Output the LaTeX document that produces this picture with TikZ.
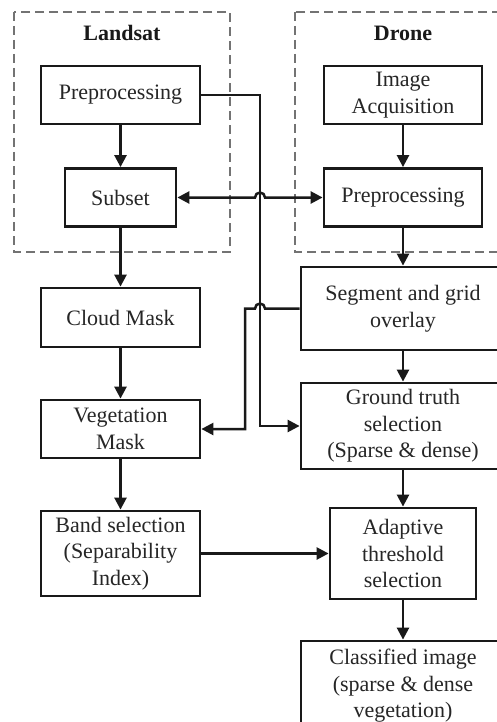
\documentclass[tikz,border=0pt]{standalone}
\usepackage{fontspec}
\setmainfont{Liberation Serif}
\usetikzlibrary{arrows.meta,calc}
\begin{document}
\begin{tikzpicture}[x=1pt,y=1pt,
  box/.style={draw=black!90, line width=2.8pt, align=center, inner sep=2pt,
    font=\fontsize{22}{26.5}\selectfont, text=black!85},
  grp/.style={draw=black!55, line width=1.6pt, dash pattern=on 9pt off 5pt},
  ttl/.style={font=\fontsize{22}{26}\selectfont\bfseries, text=black!90},
  tip/.style={Triangle[length=12pt,width=12pt]},
  arr/.style={line width=2.5pt, draw=black!90, -{Triangle[length=12pt,width=12pt]}},
  darr/.style={line width=2.5pt, draw=black!90, {Triangle[length=12pt,width=12pt]}-{Triangle[length=12pt,width=12pt]}}]
\useasboundingbox (0,0) rectangle (497,-722);
\clip (0,0) rectangle (497,-722);
\fill[white] (0,0) rectangle (497,-722);
% groups
\draw[grp] (14,-12) rectangle (230,-252);
\draw[grp] (295,-12) rectangle (515,-252);
\node[ttl] (tl) at (122,-33) {Landsat};
\node[ttl] (td) at (403,-33) {Drone};
% left column
\node[box, minimum width=159pt, minimum height=58pt] (pL) at (120.5,-95) {Preprocessing};
\node[box, minimum width=111pt, minimum height=58pt] (sub) at (120.5,-197.5) {Subset};
\node[box, minimum width=159pt, minimum height=59pt] (cloud) at (120.5,-317.5) {Cloud Mask};
\node[box, minimum width=159pt, minimum height=58pt] (veg) at (120.5,-429) {Vegetation\\Mask};
\node[box, minimum width=159pt, minimum height=85pt] (band) at (120.5,-553.5) {Band selection\\(Separability\\Index)};
% right column
\node[box, minimum width=158pt, minimum height=58pt] (ia) at (403,-95) {Image\\Acquisition};
\node[box, minimum width=158pt, minimum height=58pt] (pD) at (403,-197.5) {Preprocessing};
\node[box, minimum width=204pt, minimum height=83pt] (seg) at (403,-308.5) {Segment and grid\\overlay};
\node[box, minimum width=204pt, minimum height=86pt] (gt) at (403,-426) {Ground truth\\selection\\(Sparse \& dense)};
\node[box, minimum width=146pt, minimum height=91pt] (at) at (403,-553.5) {Adaptive\\threshold\\selection};
\node[box, minimum width=204pt, minimum height=90pt] (cls) at (403,-686) {Classified image\\(sparse \& dense\\vegetation)};
% helper columns
\coordinate (v) at (260,0);
\coordinate (w) at (245,0);
% vertical flows
\draw[arr] (pL) -- (sub);
\draw[arr] (sub) -- (cloud);
\draw[arr] (cloud) -- (veg);
\draw[arr] (veg) -- (band);
\draw[arr] (ia) -- (pD);
\draw[arr] (pD) -- (seg);
\draw[arr] (seg) -- (gt);
\draw[arr] (gt) -- (at);
\draw[arr] (at) -- (cls);
\draw[arr] (band) -- (at);
% preprocessing (Landsat) to ground truth
\draw[arr] (pL.east) -- (pL.east -| v) |- (gt.west);
% subset <-> preprocessing (drone), hopping over
\draw[darr] (sub.east) -- ([xshift=-5pt]sub.east -| v) arc[start angle=180,end angle=0,radius=5pt] -- (pD.west);
% segment to vegetation mask, hopping over
\draw[arr] (seg.west) -- ([xshift=5pt]seg.west -| v) arc[start angle=0,end angle=180,radius=5pt]
  -- (seg.west -| w) |- (veg.east);
\end{tikzpicture}
\end{document}
